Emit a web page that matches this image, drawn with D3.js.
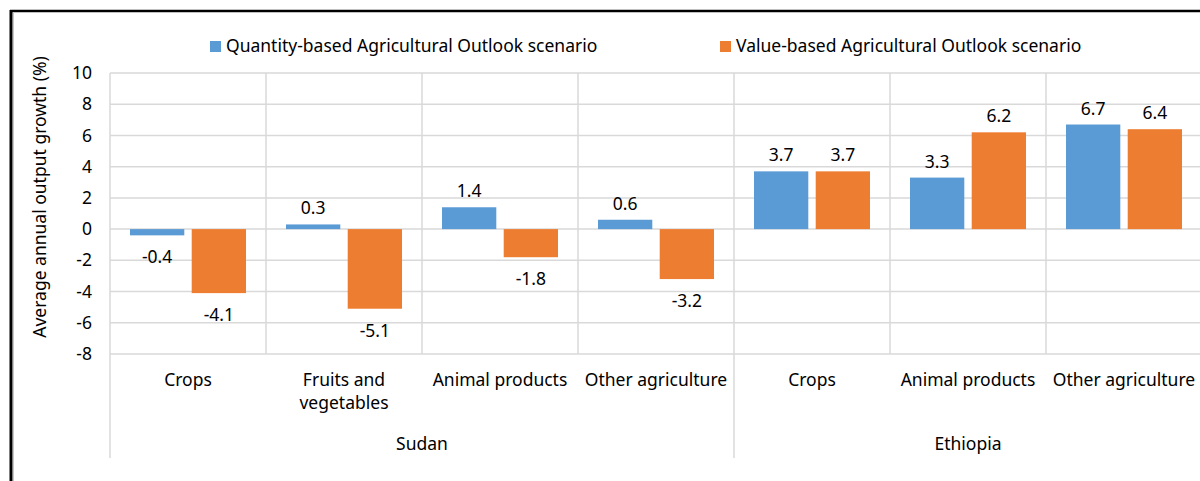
<!DOCTYPE html>
<html>
<head>
<meta charset="utf-8">
<script src="https://cdn.jsdelivr.net/npm/d3@7"></script>
<style>
  body { margin: 0; background: #fff; }
  svg text { font-family: "Noto Sans", "Open Sans", sans-serif; fill: #000; }
</style>
</head>
<body>
<svg id="chart" width="1200" height="481"></svg>
<script>
// data
var groups = ["Sudan", "Ethiopia"];
var categories = ["Crops", "Fruits and vegetables", "Animal products", "Other agriculture",
                  "Crops", "Animal products", "Other agriculture"];
var categoryGroup = ["Sudan", "Sudan", "Sudan", "Sudan", "Ethiopia", "Ethiopia", "Ethiopia"];
var seriesNames = ["Quantity-based Agricultural Outlook scenario", "Value-based Agricultural Outlook scenario"];
var quantityValues = [-0.4, 0.3, 1.4, 0.6, 3.7, 3.3, 6.7];
var valueValues = [-4.1, -5.1, -1.8, -3.2, 3.7, 6.2, 6.4];
var yTicks = [-8, -6, -4, -2, 0, 2, 4, 6, 8, 10];
var colors = ["#5b9bd5", "#ed7d31"];

var fontSize = 17.5;
var svg = d3.select("#chart");
var plotLeft = 110, plotRight = 1202, plotTop = 73, plotBottom = 354;

// plain hyphen for negatives, like the original
var locale = d3.formatLocale({decimal: ".", thousands: ",", grouping: [3], currency: ["", ""], minus: "-"});
var fmtLabel = locale.format(".1f");
var fmtTick = locale.format("d");

var idx = d3.range(categories.length);
var x = d3.scaleBand().domain(idx).range([plotLeft, plotRight]).padding(0);
var xs = d3.scaleBand().domain([0, 1]).range([20, x.bandwidth() - 20]).paddingInner(0.12);
var y = d3.scaleLinear().domain([-8, 10]).range([plotBottom, plotTop]);

// frame round the chart
svg.append("line").attr("x1", 10).attr("x2", 1200).attr("y1", 11).attr("y2", 11)
  .attr("stroke", "#000").attr("stroke-width", 2.5);
svg.append("line").attr("x1", 11).attr("x2", 11).attr("y1", 10).attr("y2", 481)
  .attr("stroke", "#000").attr("stroke-width", 3);
svg.append("line").attr("x1", 13.5).attr("x2", 13.5).attr("y1", 12).attr("y2", 481)
  .attr("stroke", "#c8c8c8").attr("stroke-width", 1);

// horizontal gridlines
svg.append("g").selectAll("line").data(yTicks).enter().append("line")
  .attr("x1", plotLeft).attr("x2", 1200)
  .attr("y1", function(d) { return y(d); }).attr("y2", function(d) { return y(d); })
  .attr("stroke", "#d9d9d9").attr("stroke-width", 1.5);

// vertical category lines, the group ones go down through the labels
var bounds = d3.range(categories.length + 1);
svg.append("g").selectAll("line").data(bounds).enter().append("line")
  .attr("x1", function(i) { return plotLeft + i * x.step(); })
  .attr("x2", function(i) { return plotLeft + i * x.step(); })
  .attr("y1", plotTop)
  .attr("y2", function(i) {
    if (i == 0 || categoryGroup[i] != categoryGroup[i - 1]) { return 458; }
    return plotBottom;
  })
  .attr("stroke", "#d9d9d9").attr("stroke-width", 1.5);

// y axis
var yAxis = svg.append("g").attr("transform", "translate(" + plotLeft + ",0)")
  .call(d3.axisLeft(y).tickValues(yTicks).tickFormat(fmtTick).tickSize(0).tickPadding(18));
yAxis.select(".domain").remove();
yAxis.selectAll("text").attr("font-size", fontSize)
  .style("font-family", "'Noto Sans', sans-serif").attr("fill", "#000");

svg.append("text")
  .attr("transform", "translate(46,197) rotate(-90)")
  .attr("text-anchor", "middle").attr("font-size", fontSize)
  .text("Average annual output growth (%)");

// bars
var series = [quantityValues, valueValues];
series.forEach(function(vals, s) {
  var g = svg.append("g");
  g.selectAll("rect").data(vals).enter().append("rect")
    .attr("x", function(d, i) { return x(i) + xs(s); })
    .attr("width", xs.bandwidth())
    .attr("y", function(d) { return y(Math.max(0, d)); })
    .attr("height", function(d) { return Math.abs(y(d) - y(0)); })
    .attr("fill", colors[s]);
  g.selectAll("text").data(vals).enter().append("text")
    .attr("x", function(d, i) { return x(i) + xs(s) + xs.bandwidth() / 2; })
    .attr("y", function(d) { return d >= 0 ? y(d) - 10 : y(d) + 28; })
    .attr("text-anchor", "middle").attr("font-size", fontSize)
    .text(function(d) { return fmtLabel(d); });
});

// category labels
svg.append("g").selectAll("text").data(idx).enter().append("text")
  .attr("x", function(i) { return x(i) + x.bandwidth() / 2; })
  .attr("y", 386)
  .attr("text-anchor", "middle").attr("font-size", fontSize)
  .each(function(i) {
    var t = d3.select(this);
    var name = categories[i];
    if (name == "Fruits and vegetables") {
      t.append("tspan").attr("x", x(i) + x.bandwidth() / 2).text("Fruits and");
      t.append("tspan").attr("x", x(i) + x.bandwidth() / 2).attr("dy", 23).text("vegetables");
    } else {
      t.text(name);
    }
  });

// group labels
svg.append("g").selectAll("text").data(groups).enter().append("text")
  .attr("x", function(g) {
    var members = idx.filter(function(i) { return categoryGroup[i] == g; });
    return (x(members[0]) + x(members[members.length - 1]) + x.bandwidth()) / 2;
  })
  .attr("y", 450)
  .attr("text-anchor", "middle").attr("font-size", fontSize)
  .text(function(g) { return g; });

// legend
var legendX = [210, 720];
var legend = svg.append("g").selectAll("g").data(seriesNames).enter().append("g")
  .attr("transform", function(d, i) { return "translate(" + legendX[i] + ",41)"; });
legend.append("rect").attr("width", 11).attr("height", 11)
  .attr("fill", function(d, i) { return colors[i]; });
legend.append("text").attr("x", 16).attr("y", 11).attr("font-size", fontSize)
  .text(function(d) { return d; });
</script>
</body>
</html>
